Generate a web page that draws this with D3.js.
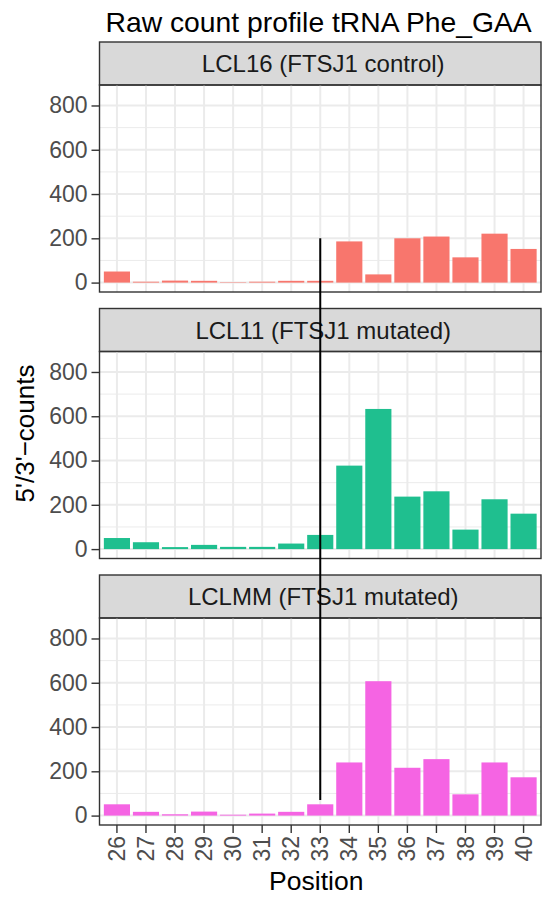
<!DOCTYPE html>
<html>
<head>
<meta charset="utf-8">
<script src="https://cdn.jsdelivr.net/npm/d3@7"></script>
<style>
  body { margin: 0; background: #ffffff; }
  text { font-family: "Liberation Sans", Arial, Helvetica, sans-serif; }
</style>
</head>
<body>
<div id="chart"></div>
<script>

// data
const positions = [26, 27, 28, 29, 30, 31, 32, 33, 34, 35, 36, 37, 38, 39, 40];
const samples = ["LCL16 (FTSJ1 control)", "LCL11 (FTSJ1 mutated)", "LCLMM (FTSJ1 mutated)"];
const countsLCL16 = [50, 4, 9, 8, 2, 4, 8, 8, 186, 37, 200, 208, 114, 221, 152];
const countsLCL11 = [50, 31, 9, 19, 10, 10, 25, 64, 377, 633, 237, 261, 88, 225, 160];
const countsLCLMM = [51, 17, 6, 18, 4, 9, 17, 51, 240, 607, 216, 255, 96, 240, 173];
const sampleColors = ["#F8766D", "#1FBF8F", "#F564E3"];
const yTicks = [0, 200, 400, 600, 800];
const yMinor = [100, 300, 500, 700];
const yLimits = [0, 850];
// marker line at position 33, from 200 in the first panel down to ~70 in the last
const markerPos = 33;
const markerFrom = 200;
const markerTo = 70;

const allCounts = [countsLCL16, countsLCL11, countsLCLMM];


//--------------------------------------
// LAYOUT
//--------------------------------------

const W = 542, H = 897;
const left = 99.5, right = 541;
const stripTop0 = 42;
const stripH = 43;
const panelH = 207;
const facetStep = 266.5;
const tickFont = 23;

const svg = d3.select("#chart").append("svg")
  .attr("width", W)
  .attr("height", H);

const x = d3.scaleBand()
  .domain(positions)
  .range([left, right])
  .paddingInner(0.1)
  .paddingOuter(0.15);

const xCenter = d => x(d) + x.bandwidth() / 2;

// ggplot style 5% expansion of the limits
const ySpan = yLimits[1] - yLimits[0];
const yDomain = [yLimits[0] - 0.05 * ySpan, yLimits[1] + 0.05 * ySpan];

const panelScales = [];

samples.forEach(function (name, i) {

  const stripTop = stripTop0 + i * facetStep;
  const pTop = stripTop + stripH;
  const pBottom = pTop + panelH;

  const y = d3.scaleLinear().domain(yDomain).range([pBottom, pTop]);
  panelScales.push(y);

  const g = svg.append("g");

  // strip
  g.append("rect")
    .attr("x", left)
    .attr("y", stripTop)
    .attr("width", right - left)
    .attr("height", stripH)
    .attr("fill", "#d9d9d9")
    .attr("stroke", "#333333")
    .attr("stroke-width", 1.4);

  g.append("text")
    .attr("x", (left + right) / 2 + 3)
    .attr("y", stripTop + stripH / 2)
    .attr("dy", "0.36em")
    .attr("text-anchor", "middle")
    .attr("font-size", 24)
    .attr("fill", "#1a1a1a")
    .text(name);

  // grid
  g.selectAll(".minor")
    .data(yMinor)
    .join("line")
    .attr("x1", left).attr("x2", right)
    .attr("y1", d => y(d)).attr("y2", d => y(d))
    .attr("stroke", "#ebebeb")
    .attr("stroke-width", 1);

  g.selectAll(".majorY")
    .data(yTicks)
    .join("line")
    .attr("x1", left).attr("x2", right)
    .attr("y1", d => y(d)).attr("y2", d => y(d))
    .attr("stroke", "#ebebeb")
    .attr("stroke-width", 2);

  g.selectAll(".majorX")
    .data(positions)
    .join("line")
    .attr("x1", d => xCenter(d)).attr("x2", d => xCenter(d))
    .attr("y1", pTop).attr("y2", pBottom)
    .attr("stroke", "#ebebeb")
    .attr("stroke-width", 2);

  // bars
  g.selectAll(".bar")
    .data(allCounts[i])
    .join("rect")
    .attr("x", (d, k) => x(positions[k]))
    .attr("width", x.bandwidth())
    .attr("y", d => y(d))
    .attr("height", d => y(0) - y(d))
    .attr("fill", sampleColors[i]);

  // panel border
  g.append("rect")
    .attr("x", left)
    .attr("y", pTop)
    .attr("width", right - left)
    .attr("height", panelH)
    .attr("fill", "none")
    .attr("stroke", "#333333")
    .attr("stroke-width", 1.4);

  // y axis
  const yAxis = d3.axisLeft(y)
    .tickValues(yTicks)
    .tickSize(8)
    .tickPadding(4)
    .tickFormat(d3.format("d"));

  const ya = g.append("g")
    .attr("transform", "translate(" + left + ",0)")
    .call(yAxis);

  ya.select(".domain").remove();
  ya.selectAll(".tick line").attr("stroke", "#333333").attr("stroke-width", 1.4);
  ya.selectAll(".tick text")
    .attr("font-size", tickFont)
    .attr("fill", "#4d4d4d")
    .style("font-family", "Liberation Sans, Arial, sans-serif");

  // x axis on the last panel only
  if (i === samples.length - 1) {

    const xAxis = d3.axisBottom(x)
      .tickSize(8)
      .tickPadding(3);

    const xa = g.append("g")
      .attr("transform", "translate(0," + pBottom + ")")
      .call(xAxis);

    xa.select(".domain").remove();
    xa.selectAll(".tick line").attr("stroke", "#333333").attr("stroke-width", 1.4);
    xa.selectAll(".tick text")
      .attr("font-size", tickFont)
      .attr("fill", "#4d4d4d")
      .style("font-family", "Liberation Sans, Arial, sans-serif")
      .attr("text-anchor", "end")
      .attr("transform", "rotate(-90)")
      .attr("x", -11)
      .attr("y", 0)
      .attr("dy", "0.35em");

  }

});


// marker line across the facets
const lastBottomScale = panelScales[panelScales.length - 1];

svg.append("line")
  .attr("x1", xCenter(markerPos))
  .attr("x2", xCenter(markerPos))
  .attr("y1", panelScales[0](markerFrom))
  .attr("y2", lastBottomScale(markerTo))
  .attr("stroke", "#000000")
  .attr("stroke-width", 2);


// titles
svg.append("text")
  .attr("x", left + 6)
  .attr("y", 32)
  .attr("font-size", 28.3)
  .attr("fill", "#000000")
  .text("Raw count profile tRNA Phe_GAA");

svg.append("text")
  .attr("x", (left + right) / 2 - 4)
  .attr("y", 890)
  .attr("text-anchor", "middle")
  .attr("font-size", 26.5)
  .attr("fill", "#000000")
  .text("Position");

const plotMid = (stripTop0 + stripTop0 + 2 * facetStep + stripH + panelH) / 2;

svg.append("text")
  .attr("transform", "translate(34," + plotMid + ") rotate(-90)")
  .attr("text-anchor", "middle")
  .attr("font-size", 26)
  .attr("fill", "#000000")
  .text("5'/3'\u2212counts");

</script>
</body>
</html>
